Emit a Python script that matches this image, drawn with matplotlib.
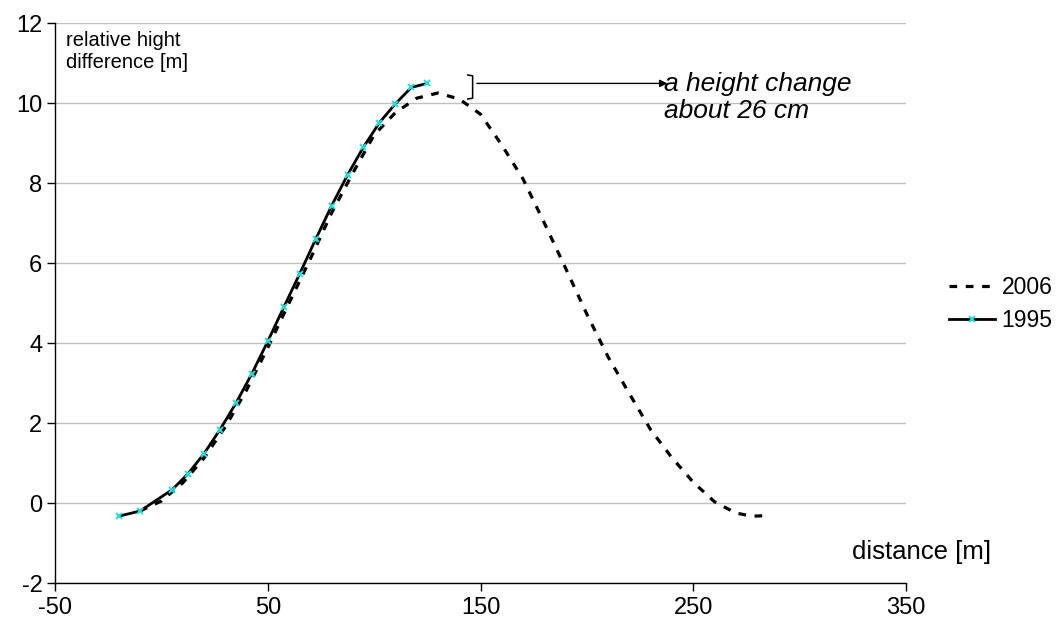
import matplotlib
matplotlib.use("Agg")
import matplotlib.pyplot as plt

plt.rcParams['font.family'] = ['Liberation Sans', 'DejaVu Sans']
plt.rcParams['axes.unicode_minus'] = False

# 1995 survey (solid with markers)
x_1995 = [-20, -10, 5, 12.5, 20, 27.5, 35, 42.5, 50, 57.5, 65, 72.5, 80, 87.5, 95, 102.5, 110, 117.5, 125]
y_1995 = [-0.33, -0.2, 0.33, 0.73, 1.23, 1.83, 2.49, 3.23, 4.04, 4.89, 5.73, 6.59, 7.43, 8.2, 8.9, 9.51, 9.98, 10.39, 10.49]

# 2006 survey (dashed)
x_2006 = [-10, 0, 10, 20, 30, 40, 50, 60, 70, 80, 90, 100, 110, 120, 130, 140, 150, 160, 170,
          180, 190, 200, 210, 220, 230, 240, 250, 260, 270, 277.5, 282.5]
y_2006 = [-0.2, 0.05, 0.5, 1.12, 1.9, 2.82, 3.88, 5.0, 6.1, 7.25, 8.25, 9.2, 9.76, 10.12, 10.25, 10.1, 9.72,
          8.95, 8.1, 7.0, 5.87, 4.72, 3.65, 2.73, 1.83, 1.13, 0.52, 0.03, -0.25, -0.33, -0.32]

x_ticks = [-50, 50, 150, 250, 350]
y_ticks = [-2, 0, 2, 4, 6, 8, 10, 12]

W, H = 1061, 630
fig = plt.figure(figsize=(W / 100, H / 100), dpi=100)
ax = fig.add_axes([55 / W, 1 - 583 / H, (906 - 55) / W, (583 - 23) / H])

ax.set_xlim(-50, 350)
ax.set_ylim(-2, 12)
ax.set_xticks(x_ticks)
ax.set_yticks(y_ticks)
ax.yaxis.grid(True, color='#c0c0c0', lw=1.0)
ax.set_axisbelow(True)
for s in ['top', 'right']:
    ax.spines[s].set_visible(False)
for s in ['left', 'bottom']:
    ax.spines[s].set_color('black')
    ax.spines[s].set_linewidth(1.0)
ax.tick_params(axis='both', direction='out', length=6, width=1, labelsize=17, colors='black')
ax.tick_params(axis='x', pad=4)
ax.tick_params(axis='y', pad=3)

l06, = ax.plot(x_2006, y_2006, color='black', lw=2.3, linestyle=(0, (2.4, 2.7)), label='2006')
l95, = ax.plot(x_1995, y_1995, color='black', lw=2.0, marker='x', markersize=5,
               markeredgecolor='#22e0e0', markeredgewidth=1.4, label='1995')

leg = ax.legend(handles=[l06, l95], loc='center left', bbox_to_anchor=(949 / W, 1 - 304 / H),
                bbox_transform=fig.transFigure, frameon=False, fontsize=16.5,
                handlelength=2.0, handletextpad=0.3, labelspacing=0.45, borderpad=0, borderaxespad=0)

ax.text(0.013, 0.985, 'relative hight\ndifference [m]', transform=ax.transAxes,
        ha='left', va='top', fontsize=14.5, linespacing=1.2)
ax.text(0.9365, 0.055, 'distance [m]', transform=ax.transAxes, ha='left', va='center',
        fontsize=18.5, clip_on=False)

# annotation: bracket, arrow, text
ax.plot([144.0, 146.3, 146.3, 144.0], [10.7, 10.68, 10.12, 10.1], color='black', lw=1.1,
        solid_joinstyle='round')
ax.annotate('', xy=(237.8, 10.49), xytext=(148.3, 10.49),
            arrowprops=dict(arrowstyle='-|>', lw=1.0, color='black', mutation_scale=11,
                            shrinkA=0, shrinkB=0))
ax.text(236.3, 10.13, 'a height change\nabout 26 cm', ha='left', va='center', fontsize=19,
        style='italic', linespacing=1.15)

fig.savefig('out.png', dpi=100, facecolor='white')
